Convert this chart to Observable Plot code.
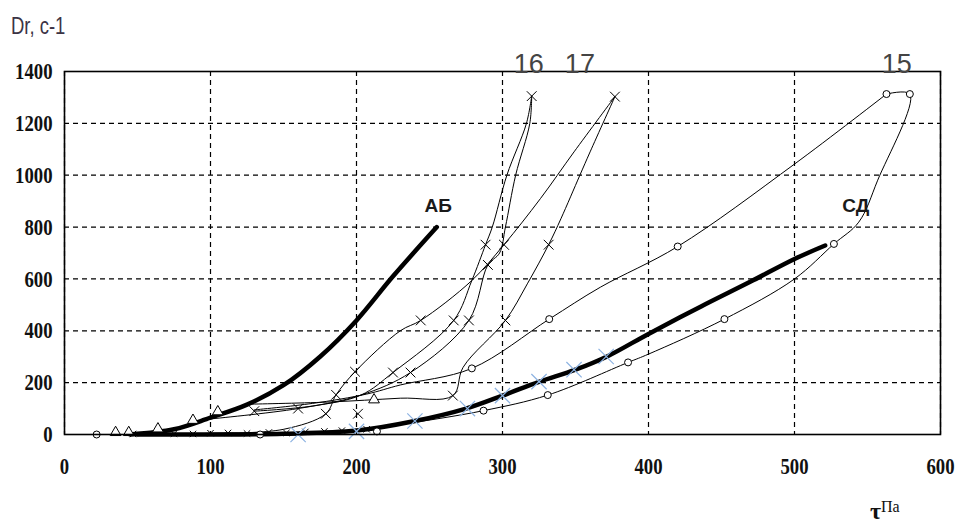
<!DOCTYPE html>
<html><head><meta charset="utf-8">
<script src="https://cdn.jsdelivr.net/npm/d3@7"></script>
<script src="https://cdn.jsdelivr.net/npm/@observablehq/plot@0.6"></script>
<style>body{margin:0;background:#fff}#chart{width:955px;height:525px;position:relative}</style>
</head><body><div id="chart"></div>
<script>
// ---- data ----
const xTicks = [0, 100, 200, 300, 400, 500, 600];
const yTicks = [0, 200, 400, 600, 800, 1000, 1200, 1400];

// thick curves
const abX = [45, 75, 100, 125, 150, 175, 200, 225, 255];
const abY = [0, 20, 65, 115, 190, 300, 440, 610, 800];
const sdX = [50, 100, 150, 200, 240, 275, 300, 325, 350, 372, 400, 436, 470, 500, 521];
const sdY = [0, 0, 3, 15, 52, 100, 150, 203, 250, 302, 388, 494, 590, 677, 729];

// model points (light blue crosses)
const blueX = [160, 200, 240, 276, 300, 325, 349, 371];
const blueY = [0, 12, 52, 100, 150, 204, 250, 301];

// curve 15 (circles)
const c15upX = [130, 170, 207, 230, 279, 332, 367, 420, 500, 563];
const c15upY = [95, 120, 156, 191, 255, 445, 568, 725, 1043, 1313];
const c15dnX = [563, 579, 557, 544, 527, 500, 452, 400, 386, 331, 287, 230, 200, 134];
const c15dnY = [1313, 1313, 981, 819, 735, 600, 445, 310, 278, 152, 92, 38, 12, 0];
const c15mX = [22, 134, 214, 279, 332, 420, 563, 579, 527, 452, 386, 331, 287];
const c15mY = [0, 0, 12, 255, 445, 725, 1313, 1313, 735, 445, 278, 152, 92];

// curve 16 (crosses)
const c16aX = [130, 170, 203, 225, 266.6, 279, 288.4, 293, 303, 316.4, 320];
const c16aY = [90, 110, 152, 239, 440, 594, 732, 800, 1000, 1200, 1305];
const c16bX = [100, 160, 203, 237, 277, 290, 298, 302, 309, 318.7, 320];
const c16bY = [60, 100, 152, 239, 440, 654, 700, 800, 1000, 1200, 1305];
// curve 17 (crosses)
const c17aX = [127, 180, 230, 266, 273, 302, 317, 331.6, 340, 353, 360, 377];
const c17aY = [117, 125, 140, 150, 259, 440, 581, 732, 832, 1000, 1090, 1303];
const c17bX = [110, 150, 179, 186, 199, 230, 244, 279, 301, 326, 349, 377];
const c17bY = [5, 20, 80, 153, 242, 400, 440, 594, 732, 910, 1090, 1303];
const crossX = [320, 377, 288.4, 301, 331.6, 290, 266.6, 277, 244, 302, 199, 225, 237, 186, 266, 201, 179, 130, 160];
const crossY = [1305, 1303, 732, 732, 732, 654, 440, 440, 440, 440, 242, 239, 239, 153, 150, 80, 80, 90, 100];

// low-level tangle near zero
const lowX = [47, 75, 88, 100, 112, 125, 140, 152, 165, 178, 190, 207];
const lowY = [2, 3, 2, 5, 6, 4, 8, 6, 10, 12, 15, 20];
// triangles along АБ
const triX = [35, 44, 64, 88, 105, 212];
const triY = [8, 8, 22, 55, 88, 134];

// labels
const labText = ["16", "17", "15"];
const labX = [318, 353, 570];
const labY = [1427, 1427, 1427];
const regText = ["АБ", "СД"];
const regX = [256, 542];
const regY = [880, 880];

// ---- build ----
const pts = (xs, ys) => xs.map((x, i) => ({x, y: ys[i]}));
const thin = {x: "x", y: "y", stroke: "black", strokeWidth: 1, curve: "catmull-rom"};
const tickFont = {tickSize: 0, fontSize: 24, fontWeight: "bold", fontFamily: "Liberation Serif, serif", fill: "#111", label: null, tickFormat: (d) => String(d)};

const chart = Plot.plot({
  width: 955, height: 525,
  marginLeft: 64, marginRight: 15, marginTop: 71, marginBottom: 91,
  x: {domain: [0, 600]},
  y: {domain: [0, 1400]},
  style: {background: "white"},
  marks: [
    Plot.gridX(xTicks, {stroke: "black", strokeOpacity: 1, strokeWidth: 1.2, strokeDasharray: "5,4"}),
    Plot.gridY(yTicks, {stroke: "black", strokeOpacity: 1, strokeWidth: 1.2, strokeDasharray: "5,4"}),
    Plot.axisX(xTicks, {...tickFont, tickPadding: 22}),
    Plot.axisY(yTicks, {...tickFont, tickPadding: 12}),
    Plot.line(pts(lowX, lowY), thin),
    Plot.line(pts(c15upX, c15upY), thin),
    Plot.line(pts(c15dnX, c15dnY), thin),
    Plot.line(pts(c16aX, c16aY), thin),
    Plot.line(pts(c16bX, c16bY), thin),
    Plot.line(pts(c17aX, c17aY), thin),
    Plot.line(pts(c17bX, c17bY), thin),
    Plot.line(pts(abX, abY), {x: "x", y: "y", stroke: "black", strokeWidth: 4.5, curve: "catmull-rom"}),
    Plot.line(pts(sdX, sdY), {x: "x", y: "y", stroke: "black", strokeWidth: 4.5, curve: "catmull-rom"}),
    Plot.dot(pts(lowX, lowY), {x: "x", y: "y", symbol: "times", r: 3, stroke: "black", strokeWidth: 1}),
    Plot.dot(pts(crossX, crossY), {x: "x", y: "y", symbol: "times", r: 4.5, stroke: "black", strokeWidth: 1}),
    Plot.dot(pts(c15mX, c15mY), {x: "x", y: "y", symbol: "circle", r: 3.5, fill: "white", stroke: "black", strokeWidth: 1}),
    Plot.dot(pts(triX, triY), {x: "x", y: "y", symbol: "triangle", r: 4, fill: "white", stroke: "black", strokeWidth: 1}),
    Plot.dot(pts(blueX, blueY), {x: "x", y: "y", symbol: "times", r: 7, stroke: "#8db3e2", strokeWidth: 1.2}),
    Plot.frame({stroke: "black", strokeWidth: 1.6}),
    Plot.text(labText.map((t, i) => ({t, x: labX[i], y: labY[i]})), {x: "x", y: "y", text: "t", fontSize: 27, fontFamily: "Liberation Sans, Arial, sans-serif", fill: "#444", ariaLabel: "curve-label"}),
    Plot.text(regText.map((t, i) => ({t, x: regX[i], y: regY[i]})), {x: "x", y: "y", text: "t", fontSize: 19, fontWeight: "bold", fontFamily: "Liberation Sans, Arial, sans-serif", fill: "#1a1a1a", ariaLabel: "region-label"})
  ]
});

document.getElementById("chart").appendChild(chart);
const svg = d3.select(chart);
const squeeze = (sel, s) => svg.selectAll(sel).each(function () {
  const t = this.getAttribute("transform") || "";
  this.setAttribute("transform", t + ` scale(${s},1)`);
});
squeeze('g[aria-label="x-axis tick label"] text', 0.78);
squeeze('g[aria-label="y-axis tick label"] text', 0.78);
squeeze('g[aria-label="curve-label"] text', 0.68);
squeeze('g[aria-label="region-label"] text', 0.9);

// axis titles
svg.append("text").attr("text-anchor", "start")
  .attr("transform", "translate(11,34) scale(0.77,1)")
  .attr("font-family", "Liberation Sans, Arial, sans-serif").attr("font-size", 24)
  .attr("fill", "#3b3345").text("Dr, с-1");
const tau = svg.append("text").attr("text-anchor", "start").attr("x", 870).attr("y", 519)
  .attr("font-family", "Liberation Serif, serif").attr("fill", "#111");
tau.append("tspan").attr("font-size", 24).attr("font-weight", "bold").text("τ");
tau.append("tspan").attr("font-size", 16).attr("dy", -7).text("Па");
</script>
</body></html>
